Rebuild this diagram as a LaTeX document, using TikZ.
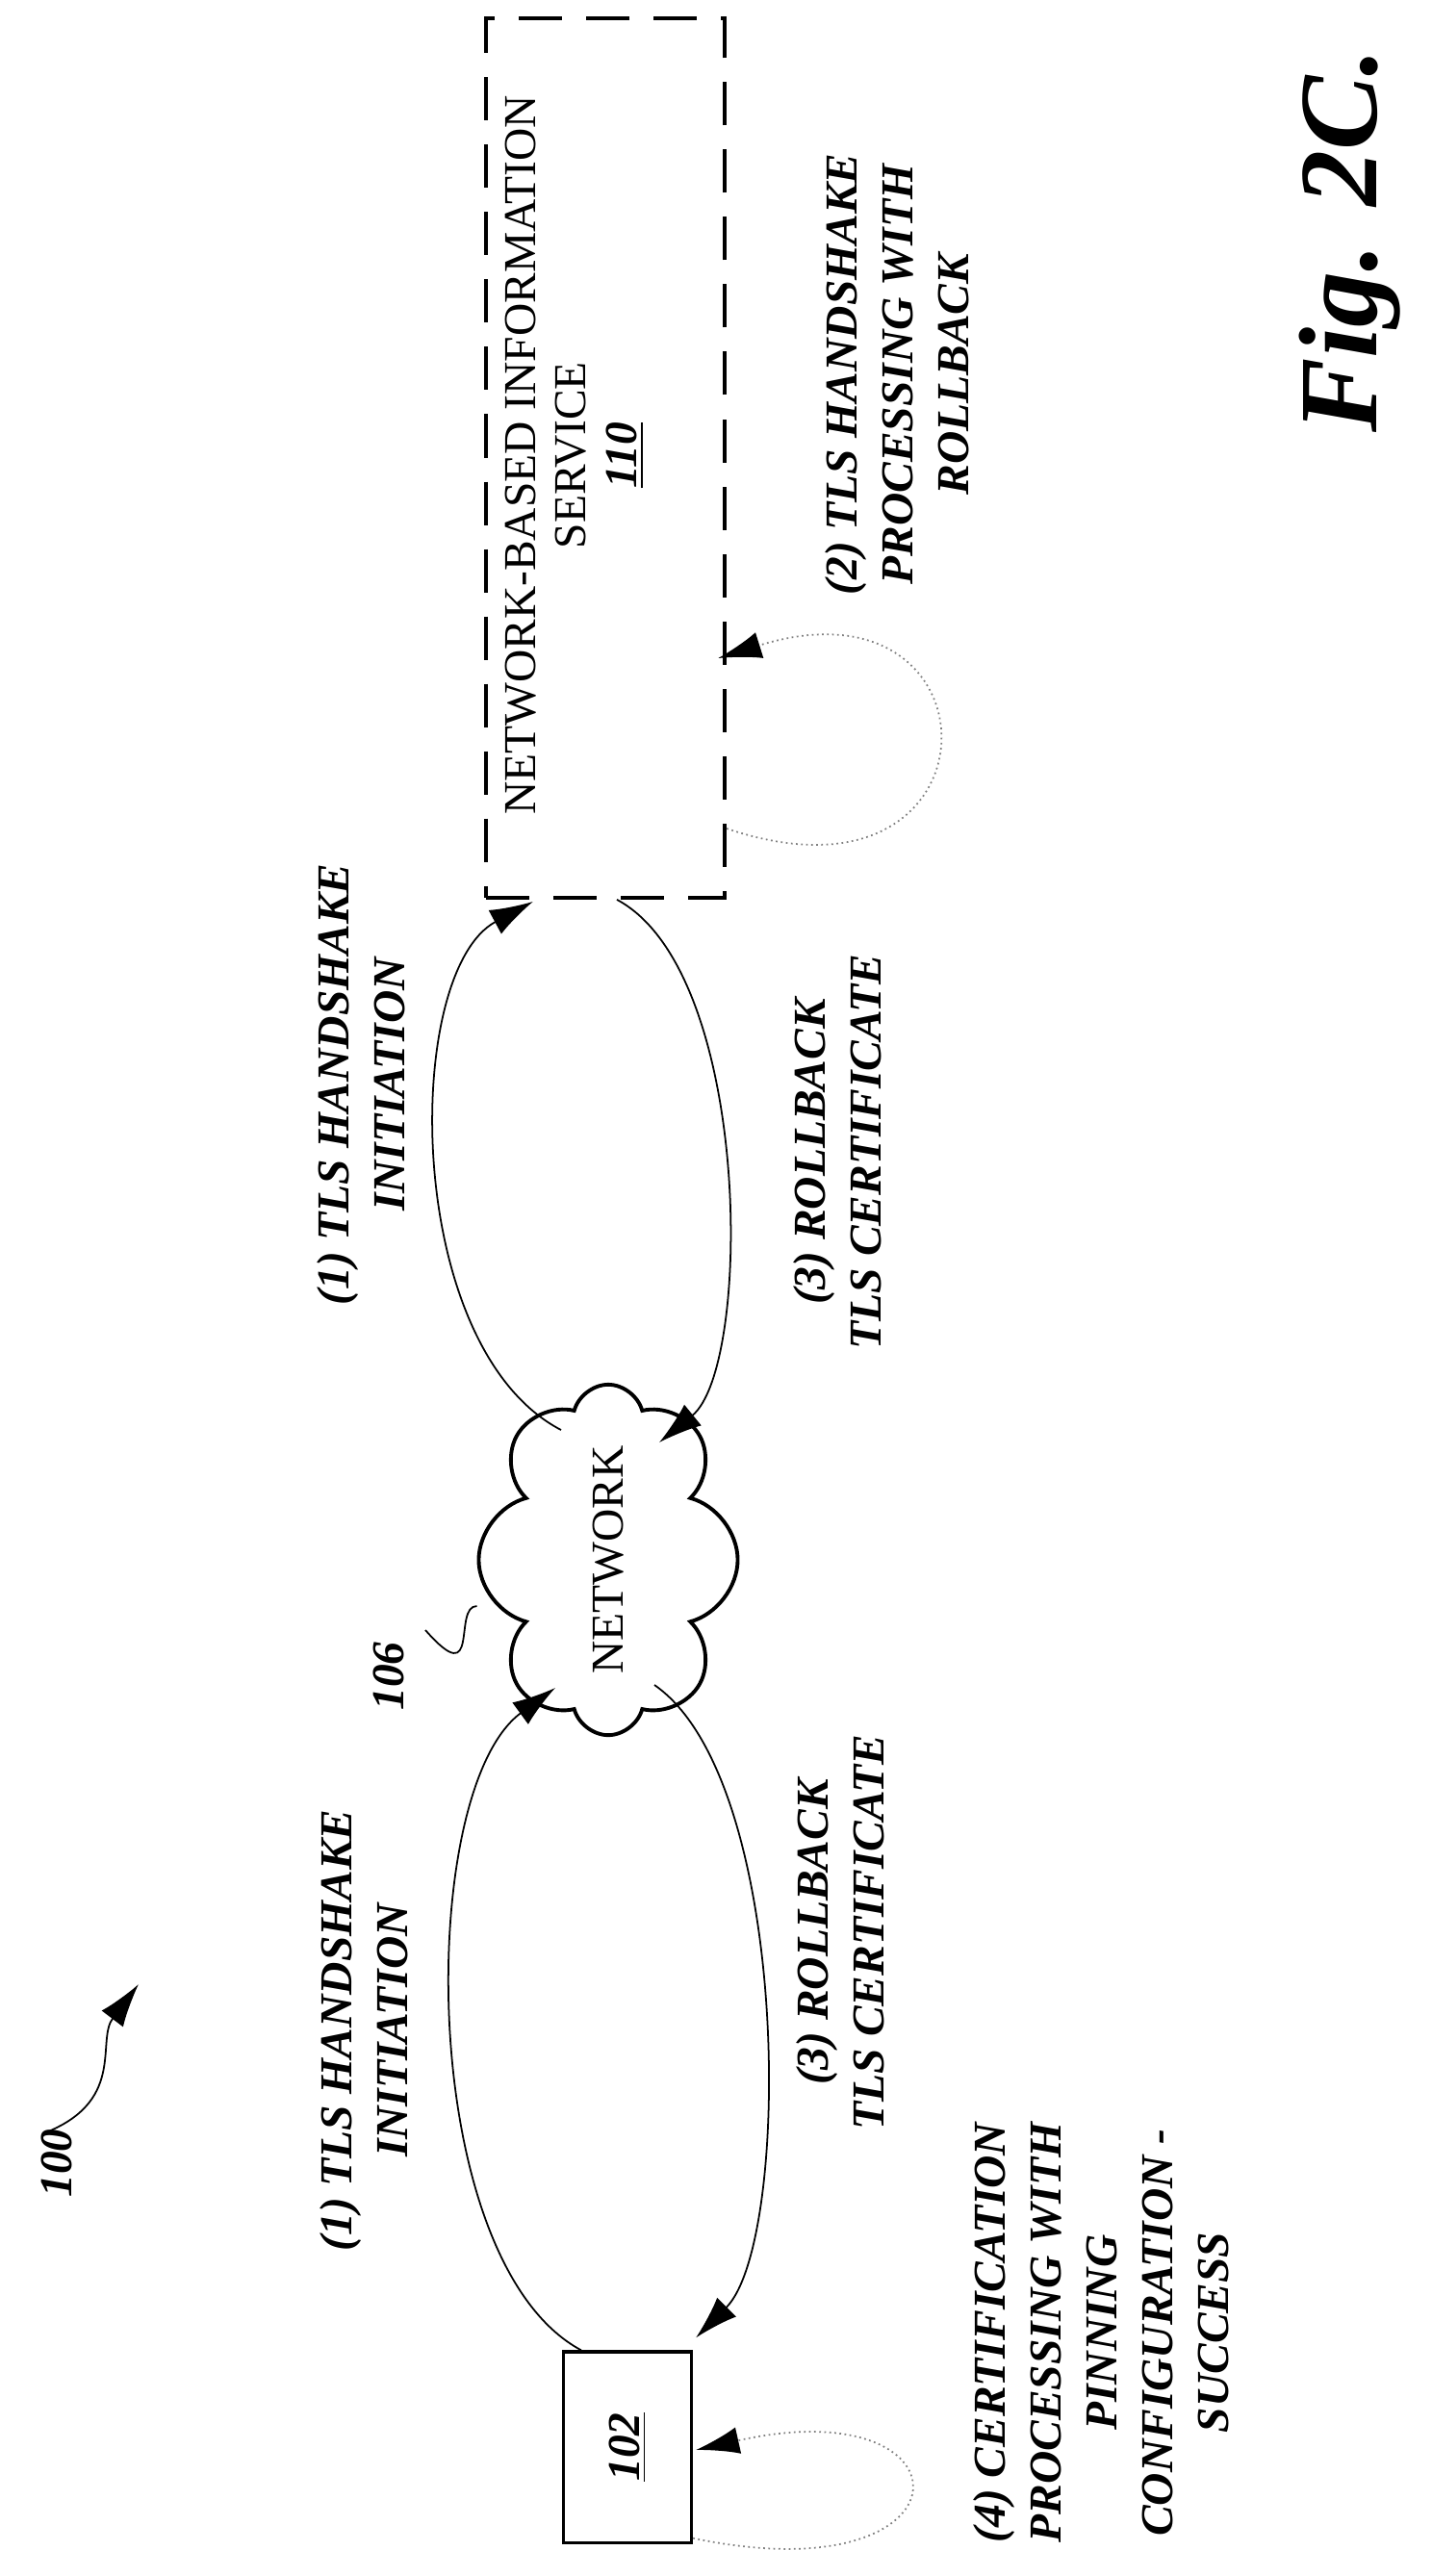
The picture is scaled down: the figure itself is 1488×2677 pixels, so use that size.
\documentclass[tikz,border=0pt]{standalone}
\usepackage{fontspec}
\setmainfont{Liberation Serif}
\usepackage{tikz}
\usetikzlibrary{arrows.meta,calc,shapes.symbols}
\tikzset{
    >={Latex[length=4.5mm,width=2.8mm]},
    lbl/.style={
           rotate=90,
           align=center,
           font=\fontsize{13.5pt}{16.5pt}\selectfont\bfseries\itshape},
    pil/.style={
           ->,
           line width=0.5pt},
    loopy/.style={
           -{Latex[length=4.5mm,width=2.8mm,color=black]},
           draw=gray,
           densely dotted,
           line width=0.5pt}
}

\begin{document}
\begin{tikzpicture}[x=0.01cm,y=-0.01cm]
          \useasboundingbox (0,0) rectangle (1488,2677);
          % nodes
          \node[draw, line width=0.9pt, minimum width=1.33cm, minimum height=1.98cm, inner sep=0pt](box102) at (652,2543) {\rotatebox{90}{\fontsize{13.5pt}{16pt}\selectfont\bfseries\itshape\underline{102}}};
          \node[draw, cloud, cloud puffs=8, aspect=0.55, line width=1.1pt, minimum width=1.75cm, minimum height=3.1cm, inner sep=0pt](cloud) at (632,1621) {\rotatebox{90}{\fontsize{13.5pt}{16pt}\selectfont NETWORK}};
          \node[draw, dash pattern=on 0.45cm off 0.25cm, line width=1.2pt, minimum width=2.48cm, minimum height=9.13cm, inner sep=0pt](svc) at (629,476) {};
          \node[rotate=90, align=center, font=\fontsize{13.5pt}{15pt}\selectfont](svctxt) at (597,473) {NETWORK-BASED INFORMATION\\SERVICE\\\textbf{\textit{\underline{110}}}};
          % labels
          \node[lbl](lblA) at (375,1127) {(1) TLS HANDSHAKE\\INITIATION};
          \node[lbl](lblB) at (870,1197) {(3) ROLLBACK\\TLS CERTIFICATE};
          \node[lbl](lblC) at (378,2110) {(1) TLS HANDSHAKE\\INITIATION};
          \node[lbl](lblD) at (873,2008) {(3) ROLLBACK\\TLS CERTIFICATE};
          \node[lbl](lblE) at (1144,2424) {(4) CERTIFICATION\\PROCESSING WITH\\PINNING\\CONFIGURATION -\\SUCCESS};
          \node[lbl](lblF) at (932,389) {(2) TLS HANDSHAKE\\PROCESSING WITH\\ROLLBACK};
          \node[lbl](lbl106) at (404,1742) {106};
          \node[lbl](lbl100) at (59,2248) {100};
          \node[rotate=90, font=\fontsize{33pt}{36pt}\selectfont\bfseries\itshape](fig) at (1403,250) {Fig. 2C.};
          \coordinate (c100) at (144,2062);
          % connectors
          \draw[pil] ($(box102.north)+(-48,0)$) .. controls (432,2350) and (432,1860) .. ($(cloud.center)+(-55,133)$);
          \draw[pil] ($(cloud.center)+(48,130)$) .. controls (823,1850) and (823,2330) .. ($(box102.north east)+(3,-13)$);
          \draw[pil] ($(cloud.center)+(-49,-135)$) .. controls (418,1400) and (418,1010) .. ($(svc.south)+(-75,2)$);
          \draw[pil] ($(svc.south)+(12,0)$) .. controls (782,1010) and (782,1420) .. ($(cloud.center)+(53,-122)$);
          \draw[loopy] ($(box102.south east)+(0,-6)$) .. controls (1017,2700) and (1017,2480) .. ($(box102.east)+(3,3)$);
          \draw[loopy] ($(svc.east)+(0,385)$) .. controls (1047,960) and (1047,590) .. ($(svc.east)+(-9,208)$);
          \draw[line width=0.5pt] ($(lbl106.east)+(0,0)$) ++(38,0) .. controls (500,1760) and (470,1669) .. (cloud.west |- 0,1669);
          \draw[pil] ($(lbl100.north)+(22,-34)$) .. controls (130,2180) and (100,2120) .. (c100);
\end{tikzpicture}
\end{document}
